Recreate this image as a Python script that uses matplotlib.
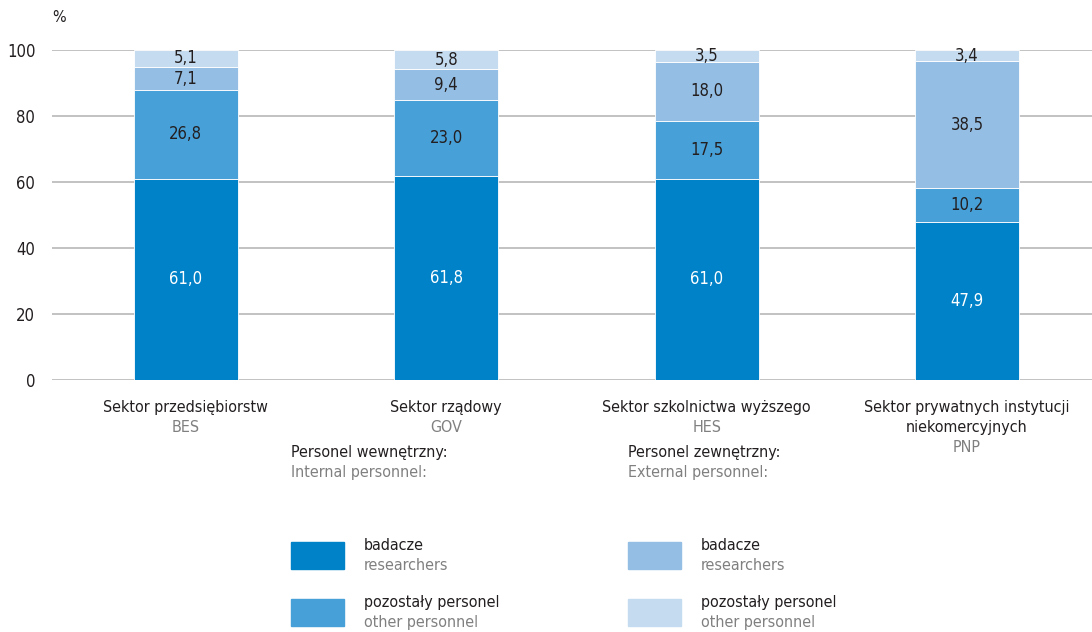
import matplotlib
matplotlib.use('Agg')
import matplotlib.pyplot as plt
from matplotlib.patches import Rectangle

plt.rcParams['font.family'] = ['DejaVu Sans']
plt.rcParams['font.stretch'] = 'condensed'

sectors_pl = ['Sektor przedsiębiorstw', 'Sektor rządowy', 'Sektor szkolnictwa wyższego',
              'Sektor prywatnych instytucji\nniekomercyjnych']
sectors_en = ['BES', 'GOV', 'HES', 'PNP']
int_researchers = [61.0, 61.8, 61.0, 47.9]
int_other = [26.8, 23.0, 17.5, 10.2]
ext_researchers = [7.1, 9.4, 18.0, 38.5]
ext_other = [5.1, 5.8, 3.5, 3.4]

series = [int_researchers, int_other, ext_researchers, ext_other]
colors = ['#0082c8', '#48a0d8', '#94bee3', '#c5dcf0']
txt_colors = ['white', '#231f20', '#231f20', '#231f20']
grey = '#808080'
fs = 11.5

fig = plt.figure(figsize=(10.92, 6.32), dpi=100)
ax = fig.add_axes([0.0476, 0.3987, 0.9524, 0.5222])

x = range(len(sectors_en))
bottom = [0.0] * 4
for vals, col, tc in zip(series, colors, txt_colors):
    ax.bar(x, vals, width=0.4, bottom=bottom, color=col, edgecolor='white', linewidth=0.6, zorder=3)
    for i, v in enumerate(vals):
        ax.text(i, bottom[i] + v / 2, f'{v:.1f}'.replace('.', ','), ha='center', va='center',
                fontsize=12, color=tc, zorder=4)
    bottom = [b + v for b, v in zip(bottom, vals)]

ax.set_xlim(-0.514, 3.48)
ax.set_ylim(0, 100)
ax.set_yticks([0, 20, 40, 60, 80, 100])
ax.yaxis.grid(True, color='#bdbdbd', linewidth=1.3, zorder=0)
ax.tick_params(axis='y', length=0, labelsize=12, pad=12, labelcolor='#231f20')
ax.tick_params(axis='x', length=0)
ax.set_xticks([])
for s in ax.spines.values():
    s.set_visible(False)
fig.text(52 / 1092, 1 - 18 / 632, '%', fontsize=fs, color='#231f20', va='center')

for i in x:
    n = sectors_pl[i].count('\n')
    ax.text(i, -6, sectors_pl[i], ha='center', va='top', fontsize=fs, color='#231f20',
            linespacing=1.4)
    ax.text(i, -6 - 6.1 * (n + 1), sectors_en[i], ha='center', va='top', fontsize=fs, color=grey)

# legend
def px(xp, yp):
    return xp / 1092, 1 - yp / 632

groups = [(291, 'Personel wewnętrzny:', 'Internal personnel:', colors[0], colors[1]),
          (628, 'Personel zewnętrzny:', 'External personnel:', colors[2], colors[3])]
for gx, h_pl, h_en, c1, c2 in groups:
    fig.text(*px(gx, 452), h_pl, fontsize=fs, color='#231f20', va='center')
    fig.text(*px(gx, 472), h_en, fontsize=fs, color=grey, va='center')
    for yp, col in [(542, c1), (599, c2)]:
        fig.patches.append(Rectangle(px(gx, yp + 27), 53 / 1092, 27 / 632, color=col,
                                     transform=fig.transFigure, figure=fig))
        fig.text(*px(gx + 73, yp + 4), 'badacze' if yp == 542 else 'pozostały personel',
                 fontsize=fs, color='#231f20', va='center')
        fig.text(*px(gx + 73, yp + 24), 'researchers' if yp == 542 else 'other personnel',
                 fontsize=fs, color=grey, va='center')

fig.savefig('out.png', dpi=100)
